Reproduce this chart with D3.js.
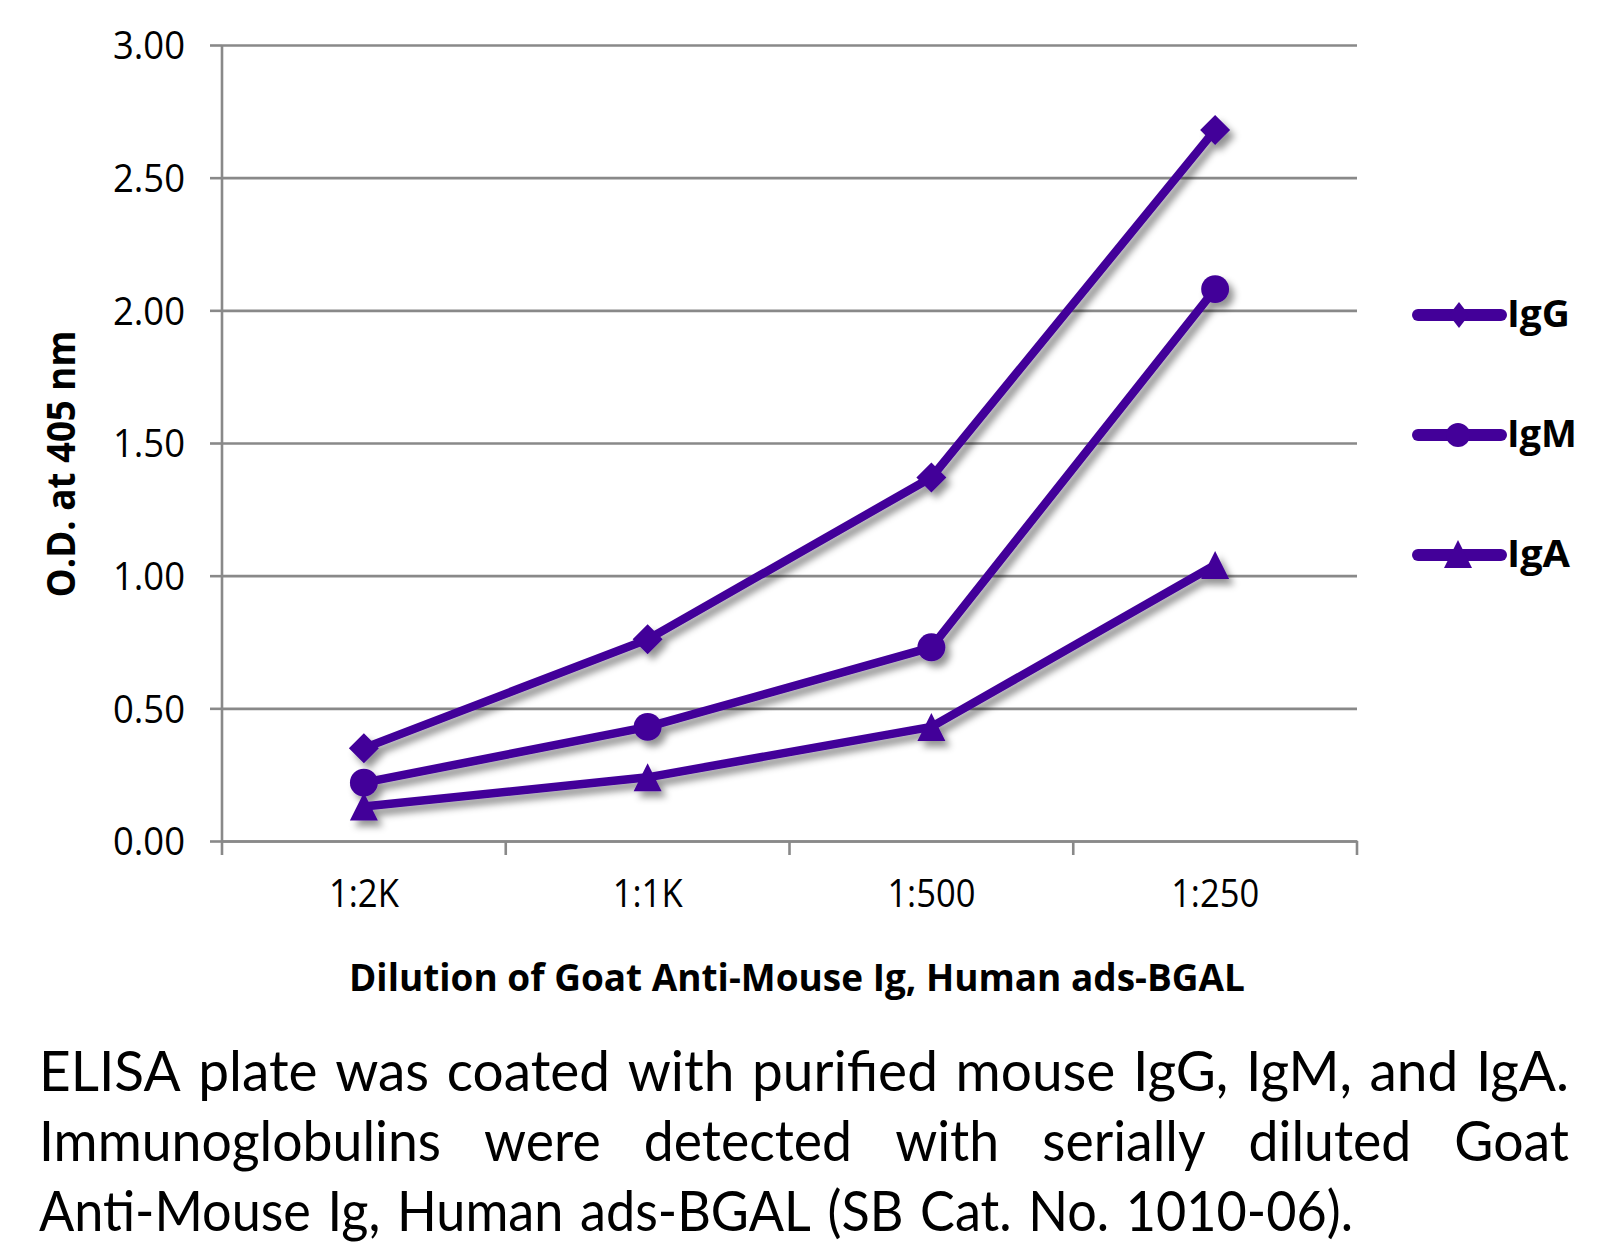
<!DOCTYPE html>
<html><head><meta charset="utf-8">
<script src="https://cdn.jsdelivr.net/npm/d3@7"></script>
<style>html,body{margin:0;padding:0;background:#fff;} svg{display:block;}</style>
</head><body>
<svg id="c" width="1620" height="1245"></svg>
<script>
const categories = ["1:2K", "1:1K", "1:500", "1:250"];
const seriesNames = ["IgG", "IgM", "IgA"];
const igG = [0.35, 0.76, 1.37, 2.68];
const igM = [0.22, 0.43, 0.73, 2.08];
const igA = [0.13, 0.24, 0.43, 1.04];
const yTicks = [0, 0.5, 1.0, 1.5, 2.0, 2.5, 3.0];
const yTitle = "O.D. at 405 nm";
const xTitle = "Dilution of Goat Anti-Mouse Ig, Human ads-BGAL";
const captionLines = [
  "ELISA plate was coated with purified mouse IgG, IgM, and IgA.",
  "Immunoglobulins were detected with serially diluted Goat",
  "Anti-Mouse Ig, Human ads-BGAL (SB Cat. No. 1010-06)."
];

const FONT = "'Open Sans', 'Noto Sans', sans-serif";
const CAP_FONT = "Lato, 'Open Sans', sans-serif";
const PURPLE = "#430099";
const GRID = "#898989";
const svg = d3.select("#c");

const L = 222, R = 1357, T = 45, B = 841;
const x = d3.scaleBand().domain(categories).range([L, R]).padding(0);
const y = d3.scaleLinear().domain([0, 3]).range([B, T]);

function fit(sel, w) { sel.attr("textLength", w).attr("lengthAdjust", "spacingAndGlyphs"); }

// shadow filter
const defs = svg.append("defs");
const f = defs.append("filter").attr("id", "sh").attr("x", "-20%").attr("y", "-20%").attr("width", "140%").attr("height", "140%");
f.append("feDropShadow").attr("dx", 5).attr("dy", 6).attr("stdDeviation", 3.5)
  .attr("flood-color", "#000").attr("flood-opacity", 0.42);

// gridlines
const grid = svg.append("g").attr("transform", `translate(${L},0)`)
  .call(d3.axisLeft(y).tickValues(yTicks).tickSize(-(R - L)).tickFormat(""));
grid.select(".domain").remove();
grid.selectAll("line").attr("stroke", GRID).attr("stroke-width", 2.6);

// y axis
const ya = svg.append("g").attr("transform", `translate(${L},0)`)
  .call(d3.axisLeft(y).tickValues(yTicks).tickSize(12).tickPadding(25).tickFormat(d3.format(".2f")));
ya.select(".domain").remove();
ya.selectAll("line").attr("stroke", GRID).attr("stroke-width", 2.6);
ya.selectAll("text").attr("font-family", FONT).attr("font-size", 38).attr("fill", "#000")
  .attr("dy", "0.36em").each(function () { fit(d3.select(this), 72); });
svg.append("line").attr("x1", L).attr("x2", L).attr("y1", T).attr("y2", B + 14)
  .attr("stroke", GRID).attr("stroke-width", 2.6);

// x axis
const xa = svg.append("g").attr("transform", `translate(0,${B})`)
  .call(d3.axisBottom(x).tickSize(0).tickPadding(0));
xa.select(".domain").attr("stroke", GRID).attr("stroke-width", 2.6);
xa.selectAll("text").attr("font-family", FONT).attr("font-size", 38).attr("fill", "#000")
  .attr("dy", null).attr("y", 66).each(function (d) { fit(d3.select(this), d.length === 4 ? 70 : 88); });
const bounds = categories.slice(1).map(c => x(c)).concat([x.range()[1]]);
svg.append("g").selectAll("line").data(bounds).join("line")
  .attr("x1", d => d).attr("x2", d => d).attr("y1", B).attr("y2", B + 14)
  .attr("stroke", GRID).attr("stroke-width", 2.6);

// axis titles
svg.append("text").attr("transform", `translate(75,464) rotate(-90)`)
  .attr("text-anchor", "middle").attr("font-family", FONT).attr("font-weight", 700)
  .attr("font-size", 39).text(yTitle).call(fit, 267);
svg.append("text").attr("x", 797).attr("y", 991).attr("text-anchor", "middle")
  .attr("font-family", FONT).attr("font-weight", 700).attr("font-size", 38)
  .text(xTitle).call(fit, 896);

// markers
function marker(g, type, cx, cy, s) {
  if (type === "diamond") {
    g.append("path").attr("d", `M${cx},${cy - s}L${cx + s},${cy}L${cx},${cy + s}L${cx - s},${cy}Z`).attr("fill", PURPLE);
  } else if (type === "circle") {
    g.append("circle").attr("cx", cx).attr("cy", cy).attr("r", s * 0.93).attr("fill", PURPLE);
  } else {
    g.append("path").attr("d", `M${cx},${cy - s}L${cx + s},${cy + s}L${cx - s},${cy + s}Z`).attr("fill", PURPLE);
  }
}
const series = [
  { name: seriesNames[0], values: igG, m: "diamond" },
  { name: seriesNames[1], values: igM, m: "circle" },
  { name: seriesNames[2], values: igA, m: "triangle" }
];
const cx = c => x(c) + x.bandwidth() / 2;
const line = d3.line().x((d, i) => cx(categories[i])).y(d => y(d));
const plot = svg.append("g").attr("filter", "url(#sh)");
series.slice().reverse().forEach(s => {
  plot.append("path").datum(s.values).attr("d", line).attr("fill", "none")
    .attr("stroke", PURPLE).attr("stroke-width", 8.5).attr("stroke-linejoin", "round");
  s.values.forEach((v, i) => marker(plot, s.m, cx(categories[i]), y(v), s.m === "triangle" ? 14 : 15));
});

// legend
const legY = d3.scalePoint().domain(seriesNames).range([315, 555]);
series.forEach(s => {
  const ly = legY(s.name);
  const g = svg.append("g");
  g.append("line").attr("x1", 1418).attr("x2", 1501).attr("y1", ly).attr("y2", ly)
    .attr("stroke", PURPLE).attr("stroke-width", 12).attr("stroke-linecap", "round");
  if (s.m === "diamond") {
    g.append("path").attr("d", `M1459,${ly - 13}L1469,${ly}L1459,${ly + 13}L1449,${ly}Z`).attr("fill", PURPLE);
  } else if (s.m === "circle") {
    g.append("circle").attr("cx", 1458).attr("cy", ly).attr("r", 12).attr("fill", PURPLE);
  } else {
    g.append("path").attr("d", `M1458,${ly - 15}L1472,${ly + 13}L1444,${ly + 13}Z`).attr("fill", PURPLE);
  }
  g.append("text").attr("x", 1507).attr("y", ly + 12).attr("font-family", FONT).attr("font-weight", 700)
    .attr("font-size", 37).text(s.name).call(fit, s.name === "IgM" ? 70 : 63);
});

// caption (justified)
const CAP_SIZE = 56, capX0 = 39;
const lineEnds = [1569, 1569, 1353];
const baselines = [1091, 1161, 1231];
const cap = svg.append("g");
function measure(str) {
  const t = cap.append("text").attr("font-family", CAP_FONT).attr("font-size", CAP_SIZE).text(str);
  const w = t.node().getComputedTextLength(); t.remove(); return w;
}
const spaceW = measure("a a") - measure("aa");
const GAP_FACTOR = 1.25;
function lineScale(ln, end) {
  const words = ln.split(" ");
  const sumW = d3.sum(words, w => measure(w));
  const nG = words.length - 1;
  return (end - capX0) / (sumW + nG * spaceW * GAP_FACTOR);
}
const k1 = lineScale(captionLines[0], lineEnds[0]);
const k3 = lineScale(captionLines[2], lineEnds[2]);
const ks = [k1, (k1 + k3) / 2, k3];
captionLines.forEach((ln, li) => {
  const words = ln.split(" ");
  const k = ks[li];
  const ws = words.map(w => measure(w) * k);
  let gap;
  if (li === 1) gap = (lineEnds[li] - capX0 - d3.sum(ws)) / (words.length - 1);
  else gap = spaceW * k * GAP_FACTOR;
  let xx = capX0;
  words.forEach((w, i) => {
    cap.append("text").attr("x", xx).attr("y", baselines[li]).attr("font-family", CAP_FONT)
      .attr("font-size", CAP_SIZE).attr("fill", "#000").text(w).call(fit, ws[i]);
    xx += ws[i] + gap;
  });
});
</script>
</body></html>
